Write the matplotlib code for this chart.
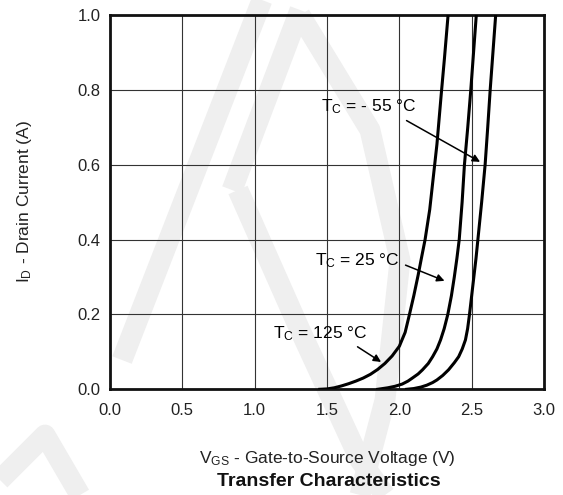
import numpy as np
import matplotlib
matplotlib.use('Agg')
import matplotlib.pyplot as plt
from matplotlib.lines import Line2D

plt.rcParams['font.family'] = ['Liberation Sans', 'DejaVu Sans']
plt.rcParams['mathtext.fontset'] = 'custom'
plt.rcParams['mathtext.rm'] = 'Liberation Sans'
plt.rcParams['mathtext.it'] = 'Liberation Sans:italic'

# 그래프에서 읽은 값 (V_GS [V], I_D [A])
vgs_125 = [1.45, 1.50, 1.55, 1.60, 1.65, 1.70, 1.75, 1.80, 1.85, 1.90, 1.95, 2.00, 2.04,
           2.07, 2.10, 2.13, 2.155, 2.178, 2.21, 2.24, 2.26, 2.29, 2.312, 2.337]
id_125 = [0.0, 0.001, 0.004, 0.009, 0.015, 0.022, 0.030, 0.040, 0.053, 0.069, 0.089, 0.115, 0.152,
          0.20, 0.25, 0.305, 0.355, 0.40, 0.48, 0.585, 0.655, 0.79, 0.885, 1.00]

vgs_25 = [1.85, 1.92, 1.97, 2.02, 2.06, 2.09, 2.13, 2.16, 2.20, 2.23, 2.26, 2.285, 2.31,
          2.335, 2.36, 2.38, 2.398, 2.414, 2.434, 2.45, 2.473, 2.494, 2.513, 2.532]
id_25 = [0.0, 0.004, 0.008, 0.014, 0.022, 0.030, 0.041, 0.052, 0.069, 0.087, 0.108, 0.132, 0.162,
         0.20, 0.25, 0.30, 0.35, 0.40, 0.50, 0.60, 0.70, 0.80, 0.90, 1.00]

vgs_m55 = [2.05, 2.10, 2.15, 2.19, 2.23, 2.26, 2.30, 2.34, 2.38, 2.41, 2.435, 2.457, 2.472,
           2.485, 2.50, 2.515, 2.53, 2.543, 2.569, 2.593, 2.611, 2.628, 2.647, 2.666]
id_m55 = [0.0, 0.002, 0.006, 0.011, 0.018, 0.025, 0.037, 0.052, 0.071, 0.087, 0.108, 0.132, 0.162,
          0.20, 0.25, 0.30, 0.35, 0.40, 0.50, 0.60, 0.70, 0.80, 0.90, 1.00]

x_ticks = [0.0, 0.5, 1.0, 1.5, 2.0, 2.5, 3.0]
y_ticks = [0.0, 0.2, 0.4, 0.6, 0.8, 1.0]

fig = plt.figure(figsize=(5.63, 4.95), dpi=100)

# 배경 워터마크 (연한 회색 띠)
W, H = 563, 495
wm = [
    [(122, 360), (262, 0)],
    [(232, 190), (300, 10)],
    [(238, 190), (300, 330), (360, 460), (385, 495)],
    [(0, 480), (45, 435), (80, 495)],
    [(300, 15), (370, 130), (400, 260), (385, 400), (360, 495)],
]
for pts in wm:
    xs = [p[0] / W for p in pts]
    ys = [1 - p[1] / H for p in pts]
    fig.add_artist(Line2D(xs, ys, color='#efefef', lw=15, solid_capstyle='butt',
                          solid_joinstyle='round', zorder=0, transform=fig.transFigure))

ax = fig.add_axes([110 / W, 1 - 389.3 / H, (544 - 110) / W, (389.3 - 15) / H])
ax.set_facecolor('none')

ax.plot(vgs_125, id_125, color='black', lw=2.2, zorder=3, solid_joinstyle='round')
ax.plot(vgs_25, id_25, color='black', lw=2.2, zorder=3, solid_joinstyle='round')
ax.plot(vgs_m55, id_m55, color='black', lw=2.2, zorder=3, solid_joinstyle='round')

ax.set_xlim(0, 3)
ax.set_ylim(0, 1)
ax.set_xticks(x_ticks)
ax.set_yticks(y_ticks)
ax.set_xticklabels([f'{v:.1f}' for v in x_ticks])
ax.set_yticklabels([f'{v:.1f}' for v in y_ticks])
ax.tick_params(length=0, labelsize=12, colors='#222222')
ax.tick_params(axis='x', pad=10)
ax.tick_params(axis='y', pad=7)
ax.grid(True, color='#333333', lw=0.8)
ax.set_axisbelow(True)
for s in ax.spines.values():
    s.set_linewidth(2.0)
    s.set_color('#111111')

arrow = dict(arrowstyle='-|>', color='black', lw=1.1, mutation_scale=11)
ax.annotate(r'$\mathregular{T_C}$ = - 55 °C', xy=(2.575, 0.604), xytext=(1.46, 0.754),
            fontsize=12.5, va='center', ha='left', arrowprops=dict(arrow, relpos=(0.8, 0.05)))
ax.annotate(r'$\mathregular{T_C}$ = 25 °C', xy=(2.33, 0.287), xytext=(1.42, 0.345),
            fontsize=12.5, va='center', ha='left', arrowprops=dict(arrow, relpos=(1.0, 0.35)))
ax.annotate(r'$\mathregular{T_C}$ = 125 °C', xy=(1.89, 0.069), xytext=(1.13, 0.150),
            fontsize=12.5, va='center', ha='left', arrowprops=dict(arrow, relpos=(0.82, 0.0)))

fig.text(25 / W, 1 - 202 / H, r'$\mathregular{I_D}$ - Drain Current (A)', rotation=90,
         ha='center', va='center', fontsize=12.5, color='#222222')
fig.text(327 / W, 1 - 459 / H, r'$\mathregular{V_{GS}}$ - Gate-to-Source Voltage (V)',
         ha='center', va='center', fontsize=12.5, color='#222222')
fig.text(329 / W, 1 - 481 / H, 'Transfer Characteristics', ha='center', va='center',
         fontsize=14, fontweight='bold', color='#111111')

fig.savefig('out.png', dpi=100)
